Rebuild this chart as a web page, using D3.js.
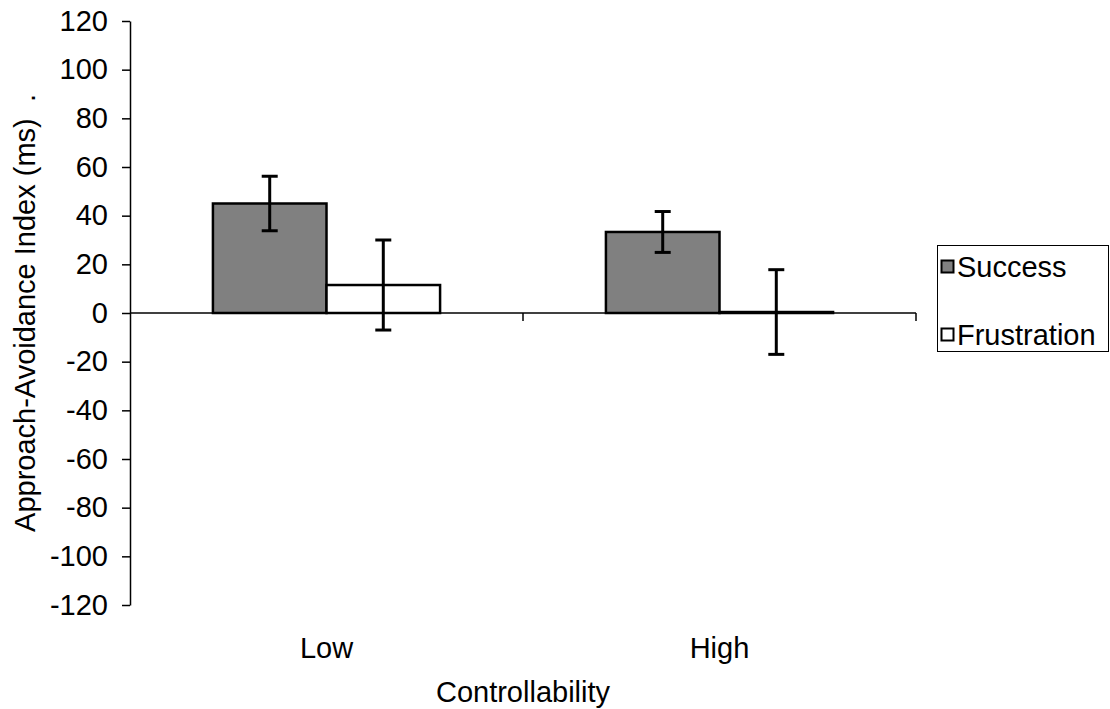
<!DOCTYPE html>
<html>
<head>
<meta charset="utf-8">
<script src="https://cdn.jsdelivr.net/npm/d3@7"></script>
<style>
  body { margin: 0; background: #fff; }
  svg { display: block; }
  text { font-family: "Liberation Sans", Arial, sans-serif; fill: #000; }
</style>
</head>
<body>
<svg id="chart"></svg>
<script>
const categories = ["Low", "High"];
const series = ["Success", "Frustration"];
const seriesColors = ["#808080", "#ffffff"];
// means and error (+/-) per category, in series order
const successMeans = [45, 33.3];
const successErrors = [11.2, 8.4];
const frustrationMeans = [11.5, 0.4];
const frustrationErrors = [18.5, 17.4];
const yTicks = [-120, -100, -80, -60, -40, -20, 0, 20, 40, 60, 80, 100, 120];

const width = 1110;
const height = 709;
const fontSize = 29;

const svg = d3.select("#chart")
    .attr("width", width)
    .attr("height", height);

const x = d3.scaleBand().domain(categories).range([130, 916]);
const y = d3.scaleLinear().domain([-120, 120]).range([605, 21]);

// bars take ~58% of each category (Excel gap width ~146%)
const groupWidth = x.bandwidth() * 0.578;
const xInner = d3.scaleBand().domain(series).range([0, groupWidth]);

const data = [];
categories.forEach((c, i) => {
    data.push({ cat: c, s: "Success", v: successMeans[i], e: successErrors[i] });
    data.push({ cat: c, s: "Frustration", v: frustrationMeans[i], e: frustrationErrors[i] });
});
const barX = d => x(d.cat) + (x.bandwidth() - groupWidth) / 2 + xInner(d.s);

// Y axis (plain hyphen minus like the original)
const yAxis = svg.append("g")
    .attr("transform", `translate(${x.range()[0]},0)`)
    .call(d3.axisLeft(y)
        .tickValues(yTicks)
        .tickFormat(d => String(d))
        .tickSize(8)
        .tickSizeOuter(0)
        .tickPadding(14));
yAxis.select(".domain").attr("stroke", "#000").attr("stroke-width", 1.5);
yAxis.selectAll(".tick line").attr("stroke", "#000").attr("stroke-width", 1.5);
yAxis.selectAll(".tick text")
    .style("font-size", fontSize + "px")
    .style("font-family", "'Liberation Sans', Arial, sans-serif")
    .attr("fill", "#000");

// Bars
svg.selectAll(".bar")
    .data(data)
    .enter()
    .append("rect")
    .attr("class", "bar")
    .attr("x", d => barX(d))
    .attr("y", d => y(Math.max(0, d.v)))
    .attr("width", xInner.bandwidth())
    .attr("height", d => Math.abs(y(d.v) - y(0)))
    .attr("fill", d => seriesColors[series.indexOf(d.s)])
    .attr("stroke", "#000")
    .attr("stroke-width", 2.5);

// X axis line at zero
svg.append("line")
    .attr("x1", x.range()[0])
    .attr("x2", x.range()[1])
    .attr("y1", y(0))
    .attr("y2", y(0))
    .attr("stroke", "#000")
    .attr("stroke-width", 1.5);

// category boundary ticks
svg.selectAll(".xtick")
    .data(categories)
    .enter()
    .append("line")
    .attr("class", "xtick")
    .attr("x1", d => x(d) + x.bandwidth())
    .attr("x2", d => x(d) + x.bandwidth())
    .attr("y1", y(0))
    .attr("y2", y(0) + 8)
    .attr("stroke", "#000")
    .attr("stroke-width", 1.5);

// Error bars
const capHalf = 8;
const errG = svg.selectAll(".err")
    .data(data)
    .enter()
    .append("g")
    .attr("class", "err")
    .attr("stroke", "#000")
    .attr("stroke-width", 3);
errG.append("line")
    .attr("x1", d => barX(d) + xInner.bandwidth() / 2)
    .attr("x2", d => barX(d) + xInner.bandwidth() / 2)
    .attr("y1", d => y(d.v + d.e))
    .attr("y2", d => y(d.v - d.e));
errG.append("line")
    .attr("x1", d => barX(d) + xInner.bandwidth() / 2 - capHalf)
    .attr("x2", d => barX(d) + xInner.bandwidth() / 2 + capHalf)
    .attr("y1", d => y(d.v + d.e))
    .attr("y2", d => y(d.v + d.e));
errG.append("line")
    .attr("x1", d => barX(d) + xInner.bandwidth() / 2 - capHalf)
    .attr("x2", d => barX(d) + xInner.bandwidth() / 2 + capHalf)
    .attr("y1", d => y(d.v - d.e))
    .attr("y2", d => y(d.v - d.e));

// Category labels
svg.selectAll(".cat-label")
    .data(categories)
    .enter()
    .append("text")
    .attr("class", "cat-label")
    .attr("x", d => x(d) + x.bandwidth() / 2)
    .attr("y", 658)
    .attr("text-anchor", "middle")
    .style("font-size", fontSize + "px")
    .text(d => d);

// Axis titles
svg.append("text")
    .attr("x", (x.range()[0] + x.range()[1]) / 2)
    .attr("y", 702)
    .attr("text-anchor", "middle")
    .style("font-size", fontSize + "px")
    .text("Controllability");

svg.append("text")
    .attr("transform", `translate(35,${(y.range()[0] + y.range()[1]) / 2}) rotate(-90)`)
    .attr("text-anchor", "middle")
    .style("font-size", fontSize + "px")
    .style("white-space", "pre")
    .text("Approach-Avoidance Index (ms)  .");

// Legend
const legend = svg.append("g");
legend.append("rect")
    .attr("x", 937.5)
    .attr("y", 245.5)
    .attr("width", 171)
    .attr("height", 106)
    .attr("fill", "#fff")
    .attr("stroke", "#000")
    .attr("stroke-width", 1);

series.forEach((s, i) => {
    const cy = 267 + i * 68;
    legend.append("rect")
        .attr("x", 941.5)
        .attr("y", cy - 6.5)
        .attr("width", 12)
        .attr("height", 12)
        .attr("fill", seriesColors[i])
        .attr("stroke", "#000")
        .attr("stroke-width", 2);
    legend.append("text")
        .attr("x", 957)
        .attr("y", cy)
        .attr("dy", "0.36em")
        .style("font-size", fontSize + "px")
        .text(s);
});
</script>
</body>
</html>
